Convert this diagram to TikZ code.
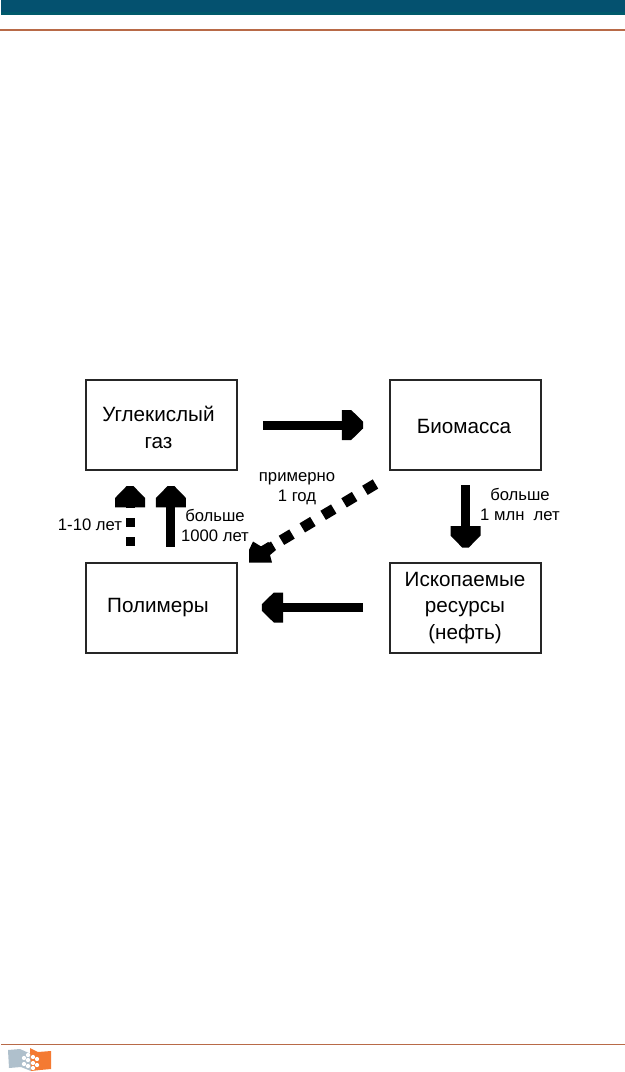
\documentclass[tikz,border=0pt]{standalone}
\usepackage{fontspec}
\setmainfont{Liberation Sans}
\usetikzlibrary{arrows.meta, positioning}
\definecolor{barblue}{HTML}{04516F}
\definecolor{barteal}{HTML}{005A6B}
\definecolor{ruleorange}{HTML}{B86A48}
\definecolor{logogrey}{HTML}{AFC0CC}
\definecolor{logoorange}{HTML}{F47A32}

% Chamfered head of the fat arrows
\pgfdeclarearrow{
  name=Block,
  setup code={
    \pgfarrowssettipend{0pt}
    \pgfarrowssetbackend{-16pt}
    \pgfarrowssetlineend{-15pt}
    \pgfarrowssetvisualbackend{-15pt}
  },
  drawing code={
    \pgfpathmoveto{\pgfpoint{0pt}{2.5pt}}
    \pgfpathlineto{\pgfpoint{-9pt}{11.25pt}}
    \pgfpathlineto{\pgfpoint{-16pt}{11.25pt}}
    \pgfpathlineto{\pgfpoint{-16pt}{-11.25pt}}
    \pgfpathlineto{\pgfpoint{-9pt}{-11.25pt}}
    \pgfpathlineto{\pgfpoint{0pt}{-2.5pt}}
    \pgfpathclose
    \pgfusepathqfill
  }
}

\tikzset{
  box/.style={draw=black!85, line width=1.5pt, minimum width=113pt, minimum height=67.5pt, inner sep=0pt},
  boxtext/.style={font=\fontsize{15.5}{20}\selectfont, align=center, inner sep=0pt},
  lbl/.style={font=\fontsize{12.5}{15}\selectfont, align=center, inner sep=0pt},
  fat/.style={line width=6.75pt, -{Block}},
  fatdash/.style={fat, dash pattern=on 6.75pt off 7.5pt},
}

\begin{document}
\begin{tikzpicture}[x=0.75pt, y=-0.75pt]
  \useasboundingbox (0,0) rectangle (625,1072);

  % Page header and footer
  \fill[barblue] (1,0) rectangle (625,12);
  \fill[barteal] (1,12) rectangle (625,14.5);
  \draw[ruleorange, line width=0.8pt] (0,30) -- (625,30);
  \draw[ruleorange, line width=0.8pt] (1,1044.5) -- (625,1044.5);

  % Logo
  \fill[logogrey] (8,1050) -- (20,1049) -- (31,1054) -- (31,1071) -- (21,1067) -- (9,1068) -- cycle;
  \fill[logoorange] (30,1048) -- (38,1052) -- (51,1051) -- (51,1069) -- (40,1070) -- (31,1071) -- cycle;
  \foreach \dx/\dy in {24/1058, 24/1064, 28/1055, 28/1060, 28/1066, 33/1057, 33/1063, 33/1068, 37/1059, 37/1065}
    \fill[white] (\dx,\dy) circle (1.6pt);

  % Boxes
  \node[box] (co2) at (161.5,425) {};
  \node[box] (bio) at (465.5,425) {};
  \node[box] (poly) at (161.5,607.5) {};
  \node[box] (oil) at (465.5,607.5) {};

  \node[boxtext] (co2txt) at (158.5,427.5) {Углекислый\\газ};
  \node[boxtext] (biotxt) at (464,426) {Биомасса};
  \node[boxtext] (polytxt) at (158,607.5) {Полимеры};
  \node[boxtext] (oiltxt) at (465,608) {Ископаемые\\ресурсы\\(нефть)};

  % Labels
  \node[lbl] (yeartxt) at (297,489) {примерно\\1 год};
  \node[lbl] (kyrtxt) at (215,525) {больше\\1000 лет};
  \node[lbl] (decadetxt) at (90,525) {1-10 лет};
  \node[lbl] (myrtxt) at (520,504) {больше\\1 млн\ \ лет};

  % Arrows
  \draw[fat, shorten <=18.75pt, shorten >=19.5pt] (co2) -- (bio);
  \draw[fat, shorten <=19.5pt, shorten >=18pt] (oil) -- (poly);
  \draw[fat, shorten <=10.5pt, shorten >=10.5pt] (bio) -- (oil);
  \draw[fat, shorten <=11.25pt, shorten >=11.25pt] ([xshift=7.1pt]poly.north) -- ([xshift=7.1pt]co2.south);
  \draw[fatdash, shorten <=12pt, shorten >=11.25pt] ([xshift=-23.6pt]poly.north) -- ([xshift=-23.6pt]co2.south);

  % Diagonal arrow, its head is cut off by the box corner
  \coordinate (diagfrom) at (375.5,484);
  \coordinate (diagto) at (262,552);
  \draw[line width=8pt, dash pattern=on 9.25pt off 9pt] (diagfrom) -- (diagto);
  \fill (249,562.5) -- (249,550) -- (253,541.5) -- (262,547) -- (271,541.5) -- (276,550) -- (270,555) -- (272,562.5) -- cycle;
\end{tikzpicture}
\end{document}
